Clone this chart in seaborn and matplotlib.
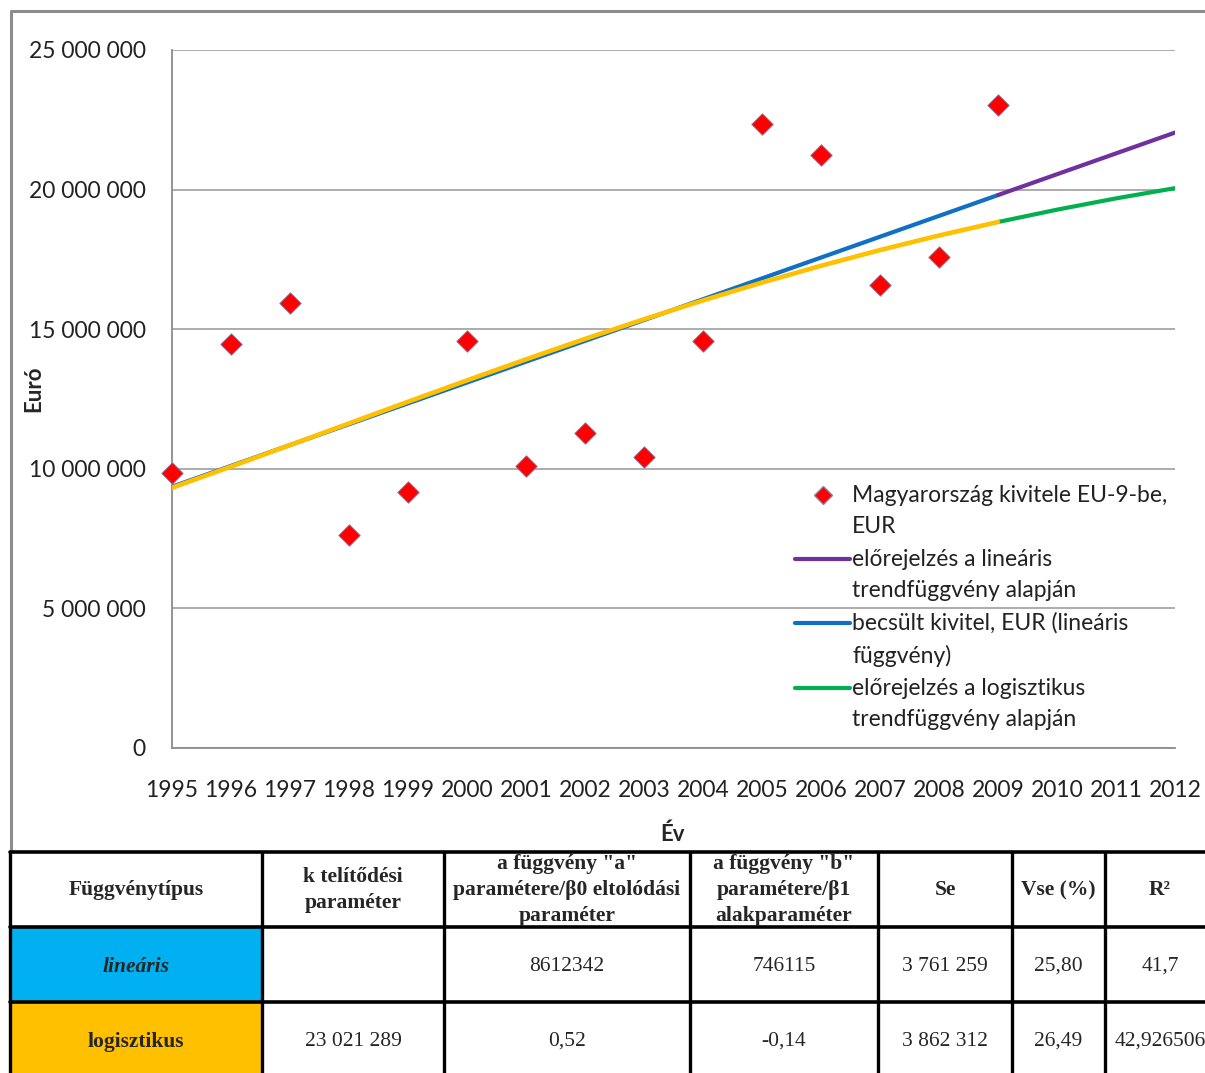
# Magyarország kivitele EU-9-be: pontok, lineáris és logisztikus trend + paramétertábla
import numpy as np
import pandas as pd
import matplotlib.pyplot as plt
import seaborn as sns
from matplotlib.lines import Line2D
from matplotlib.patches import Rectangle
from matplotlib.ticker import FuncFormatter

# Adatok
evek = list(range(1995, 2013))
kivitel = [9850000, 14470000, 15940000, 7630000, 9170000, 14580000, 10100000,
           11280000, 10420000, 14580000, 22350000, 21240000, 16580000, 17590000,
           23030000]
linearis = [9358457, 10104572, 10850687, 11596802, 12342917, 13089032, 13835147,
            14581262, 15327377, 16073492, 16819607, 17565722, 18311837, 19057952,
            19804067, 20550182, 21296297, 22042412]
logisztikus = [9321700, 10079200, 10849500, 11625700, 12401000, 13168000, 13920400,
               14652000, 15357300, 16031000, 16670100, 17271900, 17834400, 18356600,
               18838700, 19281100, 19685000, 20052000]

# Táblázat
fejlec = ["Függvénytípus", "k telítődési\nparaméter",
          'a függvény "a"\nparamétere/β0 eltolódási\nparaméter',
          'a függvény "b"\nparamétere/β1\nalakparaméter', "Se", "Vse (%)", "R²"]
sor_lin = ["lineáris", "", "8612342", "746115", "3 761 259", "25,80", "41,7"]
sor_log = ["logisztikus", "23 021 289", "0,52", "-0,14", "3 862 312", "26,49", "42,926506"]

df_pont = pd.DataFrame({"ev": evek[:15], "ertek": kivitel})
df_lin = pd.DataFrame({"ev": evek, "ertek": linearis})
df_log = pd.DataFrame({"ev": evek, "ertek": logisztikus})

sns.set_style("white")
plt.rcParams["font.family"] = ["Lato", "DejaVu Sans"]

W, H = 1205, 1073
fig = plt.figure(figsize=(W / 100, H / 100), dpi=100)

# keret a diagram körül
keret = fig.add_axes([0, 0, 1, 1], zorder=-5)
keret.set_xlim(0, W)
keret.set_ylim(H, 0)
keret.axis("off")
keret.plot([11, 11, W + 5], [851, 11, 11], color="#8c8c8c", lw=2.2)

ax = fig.add_axes([172 / W, 1 - 748 / H, (1175 - 172) / W, (748 - 50) / H])

kek = "#1070c4"
sarga = "#ffc000"
lila = "#7030a0"
zold = "#00b050"

sns.lineplot(data=df_lin.iloc[:15], x="ev", y="ertek", color=kek, lw=3, ax=ax, zorder=3)
sns.lineplot(data=df_lin.iloc[14:], x="ev", y="ertek", color=lila, lw=3, ax=ax, zorder=3)
sns.lineplot(data=df_log.iloc[:15], x="ev", y="ertek", color=sarga, lw=3.3, ax=ax, zorder=4)
sns.lineplot(data=df_log.iloc[14:], x="ev", y="ertek", color=zold, lw=3, ax=ax, zorder=3)
sns.scatterplot(data=df_pont, x="ev", y="ertek", marker="D", s=120, color="red",
                edgecolor="#7f7fb0", linewidth=0.6, ax=ax, zorder=5, clip_on=False)

ax.set_xlim(1995, 2012)
ax.set_ylim(0, 25000000)
ax.set_xticks(evek)
ax.set_yticks(range(0, 25000001, 5000000))
ax.yaxis.set_major_formatter(FuncFormatter(lambda v, p: f"{int(v):,}".replace(",", " ")))
ax.grid(axis="y", color="#a6a6a6", lw=1.3)
ax.grid(axis="x", visible=False)
for s in ["top", "right"]:
    ax.spines[s].set_visible(False)
for s in ["left", "bottom"]:
    ax.spines[s].set_color("#8c8c8c")
    ax.spines[s].set_linewidth(1.3)
ax.tick_params(axis="both", length=7, width=1.3, color="#8c8c8c", direction="out",
               labelsize=16.5, labelcolor="#222222")
ax.tick_params(axis="x", pad=16)
ax.tick_params(axis="y", pad=12)
ax.set_xlabel("Év", fontsize=16, fontweight="bold")
ax.set_ylabel("Euró", fontsize=16, fontweight="bold")
ax.xaxis.set_label_coords(0.4995, -0.108)
ax.yaxis.set_label_coords(-0.127, 0.515)

fogok = [
    Line2D([], [], marker="D", color="red", markeredgecolor="#7f7fb0", markersize=9,
           linestyle="none"),
    Line2D([], [], color=lila, lw=3),
    Line2D([], [], color=kek, lw=3),
    Line2D([], [], color=zold, lw=3),
]
cimkek = ["Magyarország kivitele EU-9-be,\nEUR",
          "előrejelzés a lineáris\ntrendfüggvény alapján",
          "becsült kivitel, EUR (lineáris\nfüggvény)",
          "előrejelzés a logisztikus\ntrendfüggvény alapján"]
leg = ax.legend(fogok, cimkek, loc="upper left", bbox_to_anchor=(795 / W, 1 - 485 / H),
                bbox_transform=fig.transFigure, frameon=False, fontsize=16.5,
                handlelength=2.4, handletextpad=0.1, labelspacing=0.5,
                borderpad=0, borderaxespad=0)
for t in leg.get_texts():
    t.set_linespacing(1.6)
    t.set_color("#222222")
# a jelölők az első szövegsorhoz igazodnak (mint az Excelben)
for h in leg.legend_handles:
    h.set_ydata(np.asarray(h.get_ydata()) + 12.0)

# táblázat
tab = fig.add_axes([0, 0, 1, 1], zorder=10)
tab.set_xlim(0, W)
tab.set_ylim(H, 0)
tab.axis("off")
oszlopok = [10, 262, 444, 690, 878, 1012, 1105, 1225]
sorok = [852, 927, 1002, 1077]
tab.add_patch(Rectangle((10, 927), 252, 75, color="#00b0f0", lw=0))
tab.add_patch(Rectangle((10, 1002), 252, 75, color="#ffc000", lw=0))
for x in oszlopok:
    tab.plot([x, x], [sorok[0], sorok[-1]], color="black", lw=2.4)
for y in sorok:
    tab.plot([oszlopok[0], oszlopok[-1]], [y, y], color="black", lw=2.6)

serif = ["Liberation Serif", "DejaVu Serif"]
for i, szoveg in enumerate(fejlec):
    xc = (oszlopok[i] + oszlopok[i + 1]) / 2
    if i == 6:
        xc = 1160
    tab.text(xc, 890, szoveg, ha="center", va="center", family=serif, fontsize=15.5,
             fontweight="bold", linespacing=1.38)
for r, sor in enumerate([sor_lin, sor_log]):
    yc = (sorok[r + 1] + sorok[r + 2]) / 2 + 2
    for i, szoveg in enumerate(sor):
        xc = (oszlopok[i] + oszlopok[i + 1]) / 2
        if i == 6:
            xc = 1160
        if i == 0:
            tab.text(xc, yc, szoveg, ha="center", va="center", family=serif, fontsize=15.5,
                     fontweight="bold", style="italic" if r == 0 else "normal")
        else:
            tab.text(xc, yc, szoveg, ha="center", va="center", family=serif, fontsize=15.5)

plt.savefig("out.png", dpi=100)
